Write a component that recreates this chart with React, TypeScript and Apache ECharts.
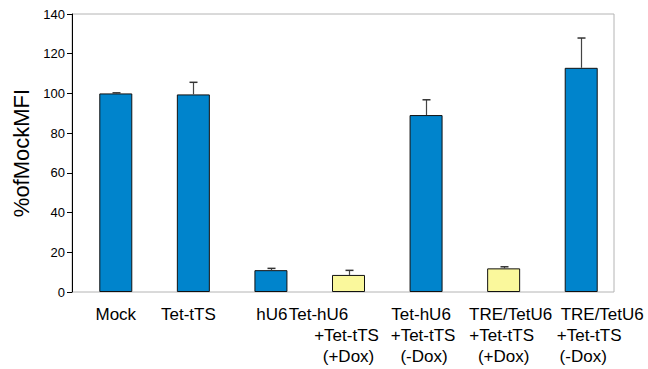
import React, { useEffect, useRef } from "react";
import * as echarts from "echarts";

const categories = [
  "Mock",
  "Tet-tTS",
  "hU6",
  "Tet-hU6\n+Tet-tTS\n(+Dox)",
  "Tet-hU6\n+Tet-tTS\n(-Dox)",
  "TRE/TetU6\n+Tet-tTS\n(+Dox)",
  "TRE/TetU6\n+Tet-tTS\n(-Dox)",
];
const values = [100, 99.5, 11.0, 8.6, 89.1, 11.9, 112.9];
const errors = [0.3, 6.1, 0.9, 2.3, 7.7, 0.8, 15.0];
const isDox = [false, false, false, true, false, true, false];
const yTicks = [0, 20, 40, 60, 80, 100, 120, 140];

// horizontal nudge (px) of each label line, to mimic the original layout
const labelShift = [[0], [-5], [1], [-30, -2, 0], [-5, -3, -2], [7, -2, 0], [21, 8, 2]];

const BLUE = "#0084CC";
const YELLOW = "#FAF89C";

export default function App() {
  const ref = useRef<HTMLDivElement>(null);
  useEffect(() => {
    if (!ref.current) return;
    const chart = echarts.init(ref.current, null, { renderer: "svg" });
    const font = "'Liberation Sans', Arial, sans-serif";
    const rich: Record<string, any> = {};
    labelShift.forEach((arr, i) =>
      arr.forEach((d, j) => {
        rich["s" + i + "_" + j] = {
          fontFamily: font,
          fontSize: 17,
          lineHeight: 21,
          color: "#000",
          padding: [0, Math.max(0, -2 * d), 0, Math.max(0, 2 * d)],
        };
      })
    );
    chart.setOption({
      animation: false,
      grid: [
        {
          left: 72,
          right: 34,
          top: 14,
          bottom: 77,
          show: true,
          borderColor: "#b4b4b4",
          borderWidth: 1,
          backgroundColor: "transparent",
          containLabel: false,
          outerBoundsMode: "none",
        },
        {
          left: 77,
          right: 28,
          top: 14,
          bottom: 77,
          show: false,
          containLabel: false,
          outerBoundsMode: "none",
        },
      ],
      xAxis: [
        {
          type: "category",
          gridIndex: 0,
          data: categories,
          axisLine: { show: false },
          axisTick: { show: false },
          axisLabel: { show: false },
        },
        {
          type: "category",
          gridIndex: 1,
          data: categories,
          axisLine: { show: false },
          axisTick: { show: false },
          axisLabel: {
            interval: 0,
            hideOverlap: false,
            color: "#000",
            fontFamily: font,
            fontSize: 17,
            lineHeight: 21,
            margin: 12,
            formatter: (v: string, i: number) =>
              v
                .split("\n")
                .map((line, j) => "{s" + i + "_" + j + "|" + line + "}")
                .join("\n"),
            rich,
          },
        },
      ],
      yAxis: [
        {
          type: "value",
          gridIndex: 0,
          min: yTicks[0],
          max: yTicks[yTicks.length - 1],
          interval: 20,
          name: "%ofMockMFI",
          nameLocation: "middle",
          nameGap: 36,
          nameTextStyle: { fontFamily: font, fontSize: 22, color: "#000" },
          axisLine: { show: true, lineStyle: { color: "#000", width: 1 } },
          axisTick: { show: true, inside: false, length: 5, lineStyle: { color: "#000" } },
          axisLabel: { color: "#000", fontFamily: font, fontSize: 13, margin: 7 },
          splitLine: { show: false },
        },
        {
          type: "value",
          gridIndex: 1,
          min: yTicks[0],
          max: yTicks[yTicks.length - 1],
          show: false,
          splitLine: { show: false },
        },
      ],
      series: [
        {
          type: "bar",
          xAxisIndex: 1,
          yAxisIndex: 1,
          barWidth: 33,
          data: values.map((v, i) => ({
            value: v,
            itemStyle: {
              color: isDox[i] ? YELLOW : BLUE,
              borderColor: "#111",
              borderWidth: 1,
            },
          })),
        },
        {
          type: "custom",
          xAxisIndex: 1,
          yAxisIndex: 1,
          z: 5,
          data: values.map((v, i) => [i, v, v + errors[i]]),
          renderItem: (params: any, api: any) => {
            const base = api.coord([api.value(0), api.value(1)]);
            const top = api.coord([api.value(0), api.value(2)]);
            const x = Math.round(base[0]) + 0.5;
            const capW = 4;
            return {
              type: "group",
              children: [
                {
                  type: "line",
                  shape: { x1: x, y1: base[1], x2: x, y2: top[1] },
                  style: { stroke: "#444", lineWidth: 1.2 },
                },
                {
                  type: "line",
                  shape: { x1: x - capW, y1: top[1], x2: x + capW, y2: top[1] },
                  style: { stroke: "#333", lineWidth: 1.5 },
                },
              ],
            };
          },
        },
      ],
    });
    return () => chart.dispose();
  }, []);
  return <div ref={ref} style={{ width: 648, height: 369, position: "absolute", left: 0, top: 0 }} />;
}
